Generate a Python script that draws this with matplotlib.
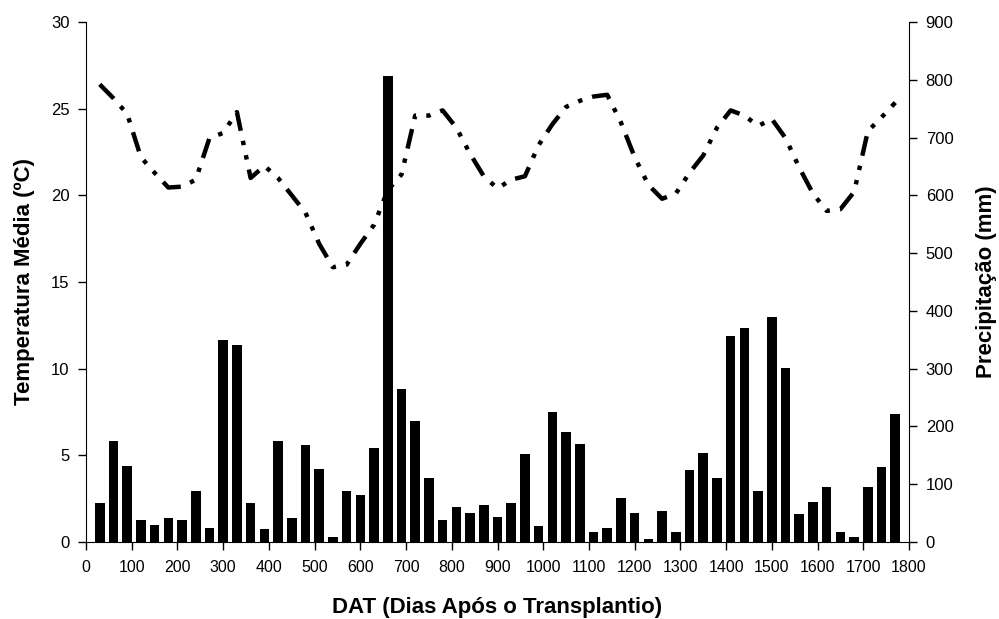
"""Temperatura média e precipitação mensal ao longo dos dias após o transplantio."""

from matplotlib import pyplot as plt

# dias (DAT) de cada registo mensal
dias = [30, 60, 90, 120, 150, 180, 210, 240, 270, 300,
        330, 360, 390, 420, 450, 480, 510, 540, 570, 600,
        630, 660, 690, 720, 750, 780, 810, 840, 870, 900,
        930, 960, 990, 1020, 1050, 1080, 1110, 1140, 1170, 1200,
        1230, 1260, 1290, 1320, 1350, 1380, 1410, 1440, 1470, 1500,
        1530, 1560, 1590, 1620, 1650, 1680, 1710, 1740, 1770]

# precipitação mensal (mm)
precipitacao = [67, 174, 132, 38, 30, 42, 38, 89, 25, 349,
                341, 67, 22, 174, 41, 168, 126, 9, 88, 82,
                163, 806, 264, 209, 110, 38, 61, 51, 64, 43,
                68, 153, 28, 225, 190, 170, 17, 24, 76, 50,
                5, 53, 17, 125, 154, 111, 357, 370, 88, 389,
                301, 49, 69, 95, 17, 8, 95, 130, 222]

# temperatura média mensal (ºC)
temperatura = [26.4, 25.6, 24.7, 22.2, 21.3, 20.45, 20.5, 20.9, 23.3, 23.6,
               24.8, 21.0, 21.7, 21.0, 20.0, 19.0, 17.2, 15.85, 16.0, 17.2,
               18.3, 20.3, 21.2, 24.6, 24.6, 24.9, 23.9, 22.4, 21.1, 20.4,
               20.9, 21.1, 22.9, 24.1, 25.1, 25.45, 25.7, 25.8, 24.2, 22.2,
               20.6, 19.8, 20.1, 21.3, 22.3, 23.9, 24.9, 24.6, 24.0, 24.4,
               23.3, 21.6, 20.1, 19.1, 19.2, 20.2, 23.7, 24.5, 25.35]

plt.rcParams['font.family'] = ['Liberation Sans', 'DejaVu Sans']

fig = plt.figure(figsize=(9.99, 6.19), dpi=100)
ax = fig.add_axes([0.0861, 0.1244, 0.8238, 0.8401])
ax2 = ax.twinx()

ax2.bar(dias, precipitacao, width=21, color='black', zorder=2)
ax.plot(dias, temperatura, color='black', linewidth=3.2,
        linestyle=(0, (4.5, 2.3, 1.0, 2.3, 1.0, 2.3)),
        dash_capstyle='butt', zorder=3)
ax.set_zorder(ax2.get_zorder() + 1)
ax.patch.set_visible(False)

ax.set_xlim(0, 1800)
ax.set_ylim(0, 30)
ax2.set_ylim(0, 900)
ax.set_xticks(range(0, 1801, 100))
ax.set_yticks(range(0, 31, 5))
ax2.set_yticks(range(0, 901, 100))

for a in (ax, ax2):
    a.spines['top'].set_visible(False)
    a.tick_params(labelsize=12, length=6, width=1, direction='out',
                  pad=6)
ax.tick_params(axis='x', labelsize=11.5, pad=7)
ax.spines['right'].set_visible(False)
ax2.spines['left'].set_visible(False)
ax2.spines['bottom'].set_visible(False)

ax.set_xlabel('DAT (Dias Após o Transplantio)', fontsize=16,
              fontweight='bold', labelpad=16)
ax.set_ylabel('Temperatura Média (ºC)', fontsize=16,
              fontweight='bold', labelpad=11)
ax2.set_ylabel('Precipitação (mm)', fontsize=16,
               fontweight='bold', labelpad=16)

fig.savefig('out.png', dpi=100)
